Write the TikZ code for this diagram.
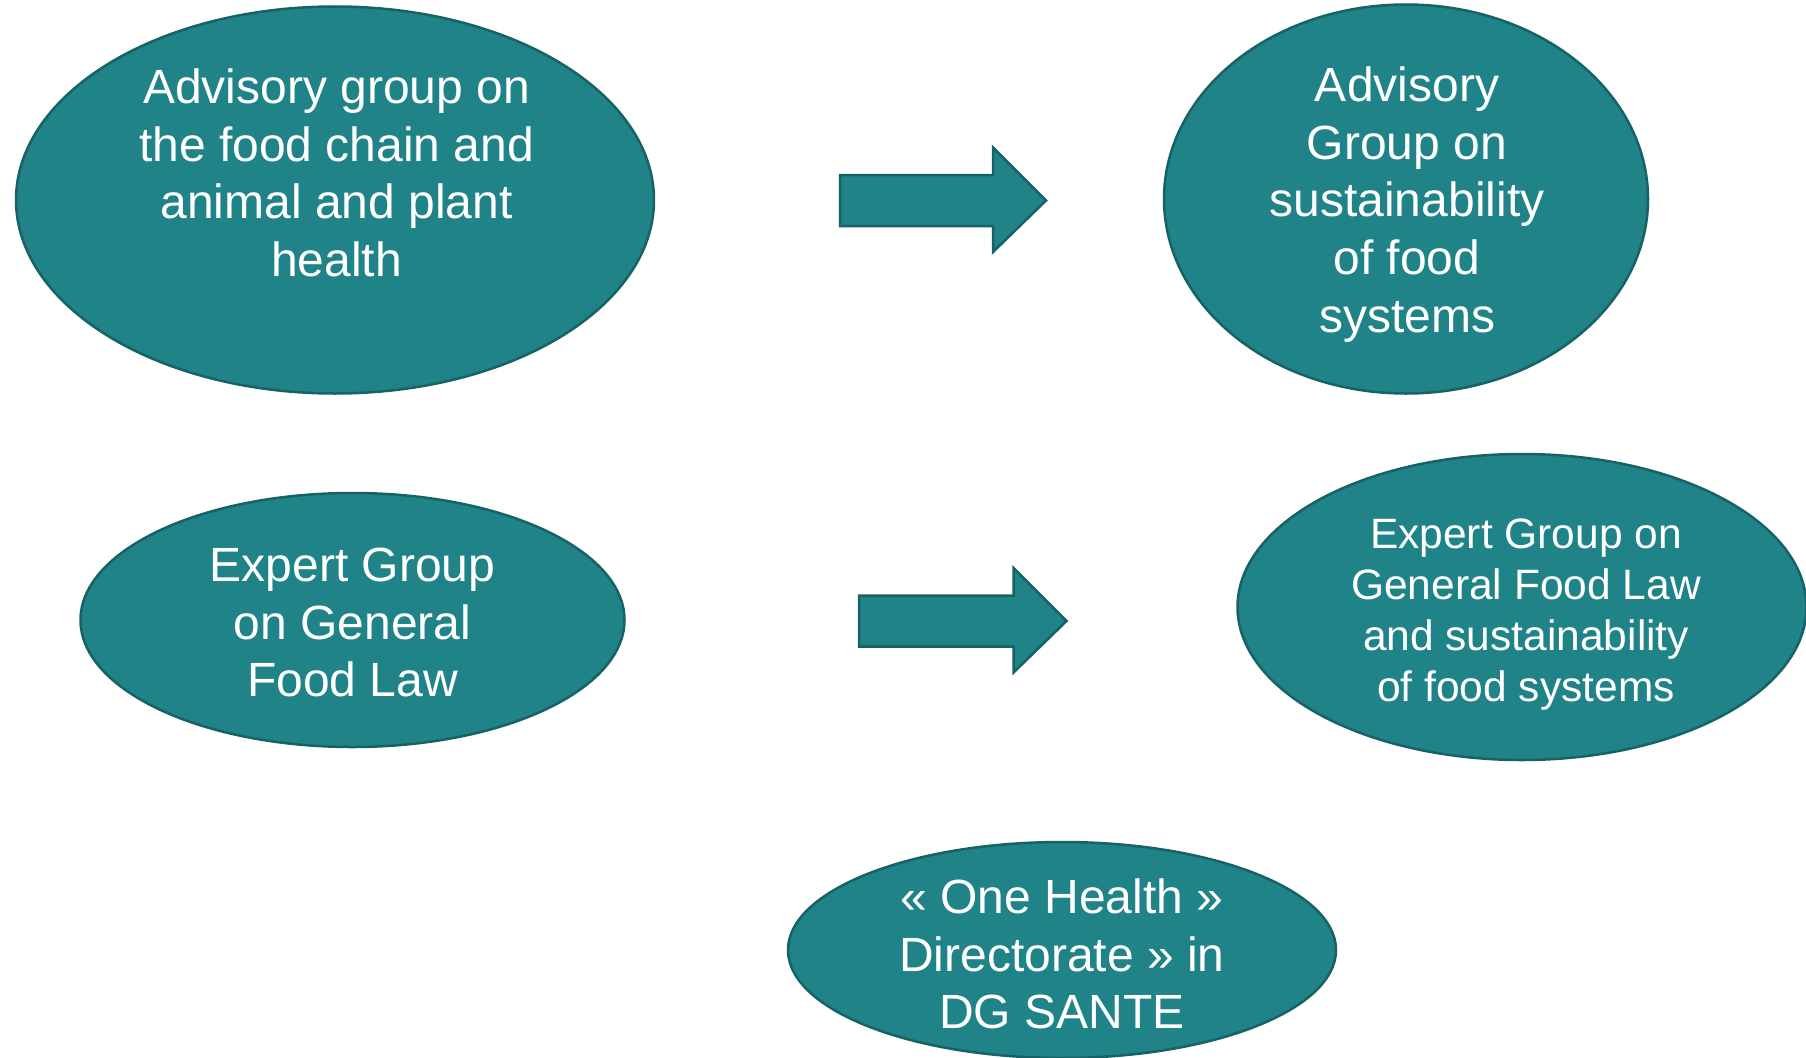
\documentclass[tikz,border=0pt]{standalone}
\usepackage{fontspec}
\setmainfont{Liberation Sans}
\usetikzlibrary{shapes.geometric}
\definecolor{tealfill}{RGB}{31,131,135}
\definecolor{tealedge}{RGB}{22,98,101}
\tikzset{
  oval/.style={ellipse, fill=tealfill, draw=tealedge, line width=2.5pt, inner sep=0pt},
  ovaltext/.style={text=white, align=center, inner sep=0pt},
  big/.style={font=\fontsize{48}{57.6}\selectfont},
  small/.style={font=\fontsize{42.5}{51}\selectfont},
  blockarrow/.style={fill=tealfill, draw=tealedge, line width=2.5pt, line join=miter}
}
\begin{document}
\begin{tikzpicture}[x=1pt,y=-1pt]
\useasboundingbox (0,0) rectangle (1806,1057);
\begin{scope}
\clip (0,0) rectangle (1806,1057);
% ellipses
\node[oval, minimum width=638, minimum height=387] (e1) at (335,200) {};
\node[oval, minimum width=484, minimum height=389] (e2) at (1406,199) {};
\node[oval, minimum width=544, minimum height=254] (e3) at (352.5,620) {};
\node[oval, minimum width=569, minimum height=306] (e4) at (1522,607) {};
\node[oval, minimum width=548, minimum height=216] (e5) at (1062,950) {};
\end{scope}
% texts
\node[ovaltext, big] (t1) at ([xshift=1.5,yshift=27]e1.center) {Advisory group on\\the food chain and\\animal and plant\\health};
\node[ovaltext, big] (t2) at ([xshift=1,yshift=-5.5]e2.center) {Advisory\\Group on\\sustainability\\of food\\systems};
\node[ovaltext, big] (t3) at ([yshift=-2.5]e3.center) {Expert Group\\on General\\Food Law};
\node[ovaltext, small] (t4) at ([xshift=4,yshift=-8]e4.center) {Expert Group on\\General Food Law\\and sustainability\\of food systems};
\node[ovaltext, big] (t5) at (1062,954) {« One Health »\\Directorate » in\\DG SANTE};
% block arrows
\coordinate (a1) at (840,200.5);
\draw[blockarrow] (a1) ++(0,-25.5) -- ++(153,0) -- ++(0,-27.5) -- (1046,200.5) -- (993,252) -- ++(0,-26) -- ++(-153,0) -- cycle;
\coordinate (a2) at (859,621);
\draw[blockarrow] (a2) ++(0,-25.5) -- ++(154.5,0) -- ++(0,-27.5) -- (1066.5,621) -- (1013.5,672.5) -- ++(0,-26) -- ++(-154.5,0) -- cycle;
\end{tikzpicture}
\end{document}
